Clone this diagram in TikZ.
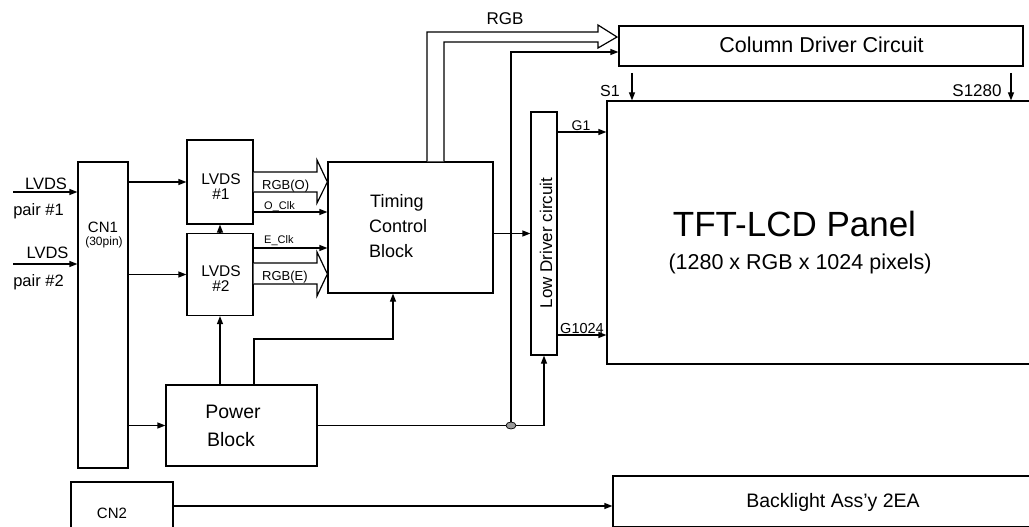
\documentclass[tikz,border=0pt]{standalone}
\usepackage{fontspec}
\setmainfont{Liberation Sans}
\usetikzlibrary{arrows.meta,shapes.geometric}
\newcommand{\fsz}[1]{\fontsize{#1}{#1}\selectfont}
\tikzset{
  box/.style={draw, line width=1.2pt, inner sep=0pt, fill=white},
  conn/.style={line width=1.2pt},
  arr/.style={conn, -{Triangle[length=8pt,width=6pt]}},
  wide/.style={line width=1.2pt, fill=white, line join=miter},
  lbl/.style={inner sep=0pt, anchor=base},
  lblw/.style={inner sep=0pt, anchor=base west},
  jdot/.style={ellipse, draw, line width=0.7pt, fill=black!40, minimum width=10pt, minimum height=7pt, inner sep=0pt},
}
\begin{document}
\begin{tikzpicture}[x=1pt,y=-1pt]
\useasboundingbox (0,0) rectangle (1029,527);
\clip (0,0) rectangle (1029,527);

% boxes
\node[box, minimum width=50pt, minimum height=306pt] (cn1) at (103,315) {};
\node[box, minimum width=66pt, minimum height=84pt] (lv1) at (220,182) {};
\node[box, minimum width=66pt, minimum height=82pt] (lv2) at (220,274.5) {};
\node[box, minimum width=165pt, minimum height=131pt] (tcb) at (410.5,227.5) {};
\node[box, minimum width=151pt, minimum height=81pt] (pwr) at (241.5,425.5) {};
\node[box, minimum width=26pt, minimum height=243pt] (ldc) at (544,233.5) {};
\node[box, minimum width=438pt, minimum height=263pt] (panel) at (826,232.5) {};
\node[box, minimum width=404pt, minimum height=40pt] (cdc) at (821,46) {};
\node[box, minimum width=102pt, minimum height=63pt] (cn2) at (122,513.5) {};
\node[box, minimum width=432pt, minimum height=51pt] (bl) at (829,501.5) {};

% free ends
\coordinate (in1) at (13,192);
\coordinate (in2) at (13,264);
\coordinate (s1) at (632,73);
\coordinate (s1280) at (1011,73);

% inputs
\draw[arr] (in1) -- (in1 -| cn1.west);
\draw[arr] (in2) -- (in2 -| cn1.west);
\draw[arr] (cn1.east |- lv1.west) -- (lv1.west);
\draw[arr] (cn1.east |- lv2.west) -- (lv2.west);
\draw[arr] (cn1.east |- pwr.west) -- (pwr.west);

% LVDS to timing
\draw[arr] (lv2.north) -- (lv1.south);
\draw[arr] (lv1.east |- 0,212) -- (tcb.west |- 0,212);
\draw[arr] (lv2.east |- 0,248) -- (tcb.west |- 0,248);
\draw[wide] (lv1.east |- 0,172) -- (317,172) -- (317,160) -- (tcb.west |- 0,182) -- (317,203) -- (317,192) -- (lv1.east |- 0,192);
\draw[wide] (lv2.east |- 0,263) -- (317,263) -- (317,252) -- (tcb.west |- 0,274) -- (317,296) -- (317,284) -- (lv2.east |- 0,284);

% power
\draw[arr] (lv2.south |- pwr.north) -- (lv2.south);
\draw[arr] (254,0 |- pwr.north) -- (254,339) -- (393,339) -- (393,0 |- tcb.south);
\draw[arr] (pwr.east) -- (ldc.south |- pwr.east) -- (ldc.south);
\coordinate (j) at (511,0 |- pwr.east);
\draw[arr] (j) -- (511,52) -- (cdc.west |- 0,52);
\node[jdot] (jd) at (j) {};

% timing outputs
\draw[wide] (427,0 |- tcb.north) -- (427,32) -- (598,32) -- (598,25) -- (617,37) -- (598,48) -- (598,42) -- (444,42) -- (444,0 |- tcb.north);
\draw[arr] (tcb.east |- ldc.west) -- (ldc.west);

% drivers to panel
\draw[arr] (ldc.east |- 0,132) -- (panel.west |- 0,132);
\draw[arr] (ldc.east |- 0,335) -- (panel.west |- 0,335);
\draw[arr] (s1) -- (s1 |- panel.north);
\draw[arr] (s1280) -- (s1280 |- panel.north);

% backlight
\draw[arr] (cn2.east |- 0,506) -- (bl.west |- 0,506);

% texts
\node[lbl, font=\fsz{16.5}] at (46,189) {LVDS};
\node[lbl, font=\fsz{16.5}] at (38.5,215) {pair \#1};
\node[lbl, font=\fsz{16.5}] at (47.5,258) {LVDS};
\node[lbl, font=\fsz{16.5}] at (38.5,286) {pair \#2};
\node[lbl, font=\fsz{15}] at (103,232) {CN1};
\node[lbl, font=\fsz{12}] at (104,245) {(30pin)};
\node[lbl, font=\fsz{15.5}] at (221,184) {LVDS};
\node[lbl, font=\fsz{15.5}] at (221,199) {\#1};
\node[lbl, font=\fsz{15.5}] at (221,276) {LVDS};
\node[lbl, font=\fsz{15.5}] at (221,291) {\#2};
\node[lblw, font=\fsz{13}] at (262,189) {RGB(O)};
\node[lblw, font=\fsz{11}] at (264,209) {O\_Clk};
\node[lblw, font=\fsz{11}] at (264,243) {E\_Clk};
\node[lblw, font=\fsz{13}] at (262,280) {RGB(E)};
\node[lblw, font=\fsz{18}] at (370,207) {Timing};
\node[lblw, font=\fsz{18}] at (369,232) {Control};
\node[lblw, font=\fsz{18}] at (369,257) {Block};
\node[lbl, font=\fsz{19.5}] at (233,418) {Power};
\node[lbl, font=\fsz{19.5}] at (231,446) {Block};
\node[lbl, font=\fsz{17}, rotate=90] at (552,243) {Low Driver circuit};
\node[lbl, font=\fsz{14}] at (581,130) {G1};
\node[lbl, font=\fsz{14.5}] at (582,333) {G1024};
\node[lbl, font=\fsz{16}] at (610,97) {S1};
\node[lbl, font=\fsz{17}] at (977,97) {S1280};
\node[lbl, font=\fsz{17}] at (505,25) {RGB};
\node[lbl, font=\fsz{35}] at (794.5,236) {TFT-LCD Panel};
\node[lbl, font=\fsz{21.5}] at (800,269) {(1280 x RGB x 1024 pixels)};
\node[lbl, font=\fsz{21.5}] at (821.5,53) {Column Driver Circuit};
\node[lbl, font=\fsz{19.5}] at (833,507) {Backlight Ass’y 2EA};
\node[lbl, font=\fsz{15}] at (112,518) {CN2};
\end{tikzpicture}
\end{document}
